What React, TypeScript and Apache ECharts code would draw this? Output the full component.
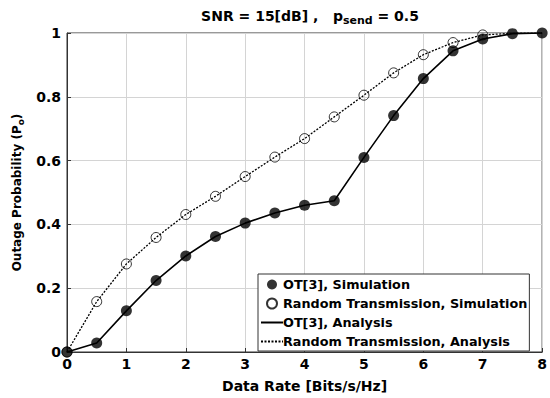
import React, { useEffect, useRef } from "react";
import * as echarts from "echarts";

const rates = [0, 0.5, 1, 1.5, 2, 2.5, 3, 3.5, 4, 4.5, 5, 5.5, 6, 6.5, 7, 7.5, 8];
const otValues = [0, 0.028, 0.129, 0.224, 0.301, 0.362, 0.404, 0.436, 0.46, 0.474, 0.61, 0.741, 0.857, 0.944, 0.981, 0.998, 1.0];
const randomValues = [0, 0.158, 0.276, 0.359, 0.431, 0.488, 0.55, 0.611, 0.669, 0.737, 0.805, 0.875, 0.932, 0.97, 0.994, 0.999, 1.0];
const xTicks = [0, 1, 2, 3, 4, 5, 6, 7, 8];
const yTicks = [0, 0.2, 0.4, 0.6, 0.8, 1];

const FONT = "'DejaVu Sans', sans-serif";

export default function App() {
  const ref = useRef<HTMLDivElement>(null);
  useEffect(() => {
    if (!ref.current) return;
    const chart = echarts.init(ref.current, undefined, { renderer: "svg" });
    const ot = rates.map((r, i) => [r, otValues[i]]);
    const rnd = rates.map((r, i) => [r, randomValues[i]]);
    chart.setOption({
      animation: false,
      backgroundColor: "#ffffff",
      title: {
        text: "{a|SNR = 15[dB] ,   p}{sub|send}{a| = 0.5}",
        left: 305,
        top: 0,
        textAlign: "center",
        textStyle: {
          rich: {
            a: { fontFamily: FONT, fontWeight: "bold", fontSize: 14, color: "#000" },
            sub: { fontFamily: FONT, fontWeight: "bold", fontSize: 11, color: "#000", padding: [10, 0, 0, 0] },
          },
        },
      },
      grid: {
        left: 67,
        right: 7,
        top: 33,
        bottom: 44,
        show: true,
        borderColor: "#333",
        borderWidth: 1,
      },
      legend: {
        orient: "vertical",
        left: 258,
        top: 274,
        itemWidth: 22,
        itemHeight: 10,
        itemGap: 6,
        padding: [4, 2, 3, 2],
        backgroundColor: "#fff",
        borderColor: "#333",
        borderWidth: 1,
        textStyle: { fontFamily: FONT, fontWeight: "bold", fontSize: 12.8, color: "#000", padding: [0, 0, 0, -5] },
        data: [
          { name: "OT[3], Simulation", icon: "circle" },
          { name: "Random Transmission, Simulation", icon: "circle" },
          { name: "OT[3], Analysis", itemStyle: { opacity: 0 } },
          { name: "Random Transmission, Analysis", itemStyle: { opacity: 0 } },
        ],
      },
      xAxis: {
        type: "value",
        min: 0,
        max: 8,
        interval: 1,
        name: "Data Rate [Bits/s/Hz]",
        nameLocation: "middle",
        nameGap: 27,
        nameTextStyle: { fontFamily: FONT, fontWeight: "bold", fontSize: 14, color: "#000" },
        axisLine: { show: true, lineStyle: { color: "#333" } },
        axisTick: { show: true, inside: true, length: 4, lineStyle: { color: "#333" } },
        axisLabel: {
          fontFamily: FONT,
          fontWeight: "bold",
          fontSize: 14,
          color: "#000",
          margin: 5,
          formatter: (v: number) => (xTicks.includes(v) ? String(v) : ""),
        },
        splitLine: { show: true, lineStyle: { color: "#d4d4d4", width: 1 } },
      },
      yAxis: {
        type: "value",
        min: 0,
        max: 1,
        interval: 0.2,
        name: "{a|Outage Probability (P}{sub|o}{a|)}",
        nameLocation: "middle",
        nameGap: 40,
        nameRotate: 90,
        nameTextStyle: {
          rich: {
            a: { fontFamily: FONT, fontWeight: "bold", fontSize: 12, color: "#000" },
            sub: { fontFamily: FONT, fontWeight: "bold", fontSize: 9, color: "#000", padding: [8, 0, 0, 0] },
          },
        },
        axisLine: { show: true, lineStyle: { color: "#333" } },
        axisTick: { show: true, inside: true, length: 4, lineStyle: { color: "#333" } },
        axisLabel: {
          fontFamily: FONT,
          fontWeight: "bold",
          fontSize: 14,
          color: "#000",
          margin: 6,
          formatter: (v: number) => {
            const t = yTicks.find((y) => Math.abs(y - v) < 1e-9);
            return t === undefined ? "" : String(t);
          },
        },
        splitLine: { show: true, lineStyle: { color: "#d4d4d4", width: 1 } },
      },
      series: [
        {
          name: "Random Transmission, Analysis",
          type: "line",
          data: rnd,
          symbol: "none",
          lineStyle: { color: "#000", width: 1.3, type: [2, 1.5] },
          itemStyle: { color: "#000" },
          z: 2,
        },
        {
          name: "OT[3], Analysis",
          type: "line",
          data: ot,
          symbol: "none",
          lineStyle: { color: "#000", width: 1.6, type: "solid" },
          itemStyle: { color: "#000" },
          z: 2,
        },
        {
          name: "Random Transmission, Simulation",
          type: "scatter",
          data: rnd.slice(0, 15),
          symbol: "circle",
          symbolSize: 10,
          itemStyle: { color: "rgba(255,255,255,0)", borderColor: "#000", borderWidth: 1 },
          z: 3,
        },
        {
          name: "OT[3], Simulation",
          type: "scatter",
          data: ot,
          symbol: "circle",
          symbolSize: 11,
          itemStyle: { color: "#000", borderColor: "#000", borderWidth: 0 },
          z: 4,
        },
      ],
    });
    return () => chart.dispose();
  }, []);
  return <div ref={ref} style={{ width: 550, height: 398, position: "absolute", left: 0, top: 0 }} />;
}
